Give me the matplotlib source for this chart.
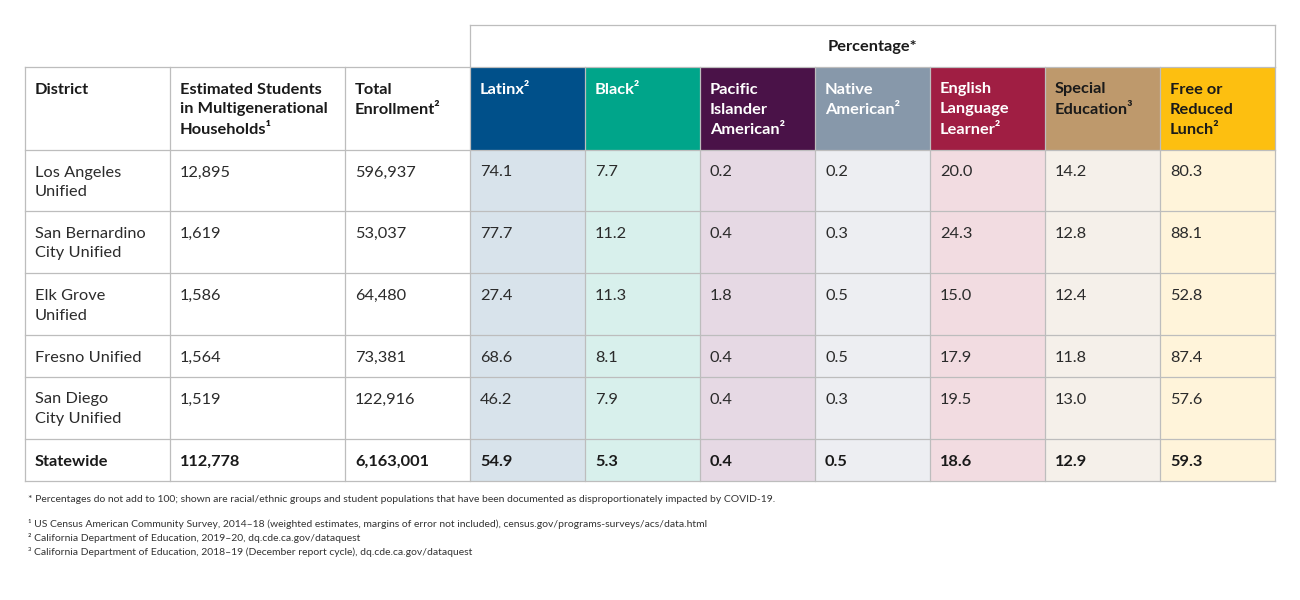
import matplotlib
matplotlib.use("Agg")
import matplotlib.pyplot as plt
import matplotlib.patches as patches

plt.rcParams['font.family'] = ['Lato', 'DejaVu Sans']

# Data
districts = [["Los Angeles", "Unified"],
             ["San Bernardino", "City Unified"],
             ["Elk Grove", "Unified"],
             ["Fresno Unified"],
             ["San Diego", "City Unified"]]
multigen = ["12,895", "1,619", "1,586", "1,564", "1,519"]
enrollment = ["596,937", "53,037", "64,480", "73,381", "122,916"]
latinx = [74.1, 77.7, 27.4, 68.6, 46.2]
black = [7.7, 11.2, 11.3, 8.1, 7.9]
pacific = [0.2, 0.4, 1.8, 0.4, 0.4]
native = [0.2, 0.3, 0.5, 0.5, 0.3]
ell = [20.0, 24.3, 15.0, 17.9, 19.5]
sped = [14.2, 12.8, 12.4, 11.8, 13.0]
frl = [80.3, 88.1, 52.8, 87.4, 57.6]

statewide_multigen = "112,778"
statewide_enroll = "6,163,001"
statewide_pct = [54.9, 5.3, 0.4, 0.5, 18.6, 12.9, 59.3]

left_headers = [["District"],
                ["Estimated Students", "in Multigenerational", "Households¹"],
                ["Total", "Enrollment²"]]
pct_headers = [["Latinx²"], ["Black²"], ["Pacific", "Islander", "American²"],
               ["Native", "American²"], ["English", "Language", "Learner²"],
               ["Special", "Education³"], ["Free or", "Reduced", "Lunch²"]]
head_colors = ["#00508a", "#00a58a", "#4a1248", "#8798aa", "#a01e43", "#be996c", "#fdbf10"]
tint_colors = ["#d8e3eb", "#d8f0ec", "#e6d9e4", "#edeef2", "#f2dce1", "#f5f0ea", "#fff4da"]
head_text = ["white", "white", "white", "white", "white", "#1a1a1a", "#1a1a1a"]

footnotes = [
    "* Percentages do not add to 100; shown are racial/ethnic groups and student populations that have been documented as disproportionately impacted by COVID-19.",
    "¹ US Census American Community Survey, 2014–18 (weighted estimates, margins of error not included), census.gov/programs-surveys/acs/data.html",
    "² California Department of Education, 2019–20, dq.cde.ca.gov/dataquest",
    "³ California Department of Education, 2018–19 (December report cycle), dq.cde.ca.gov/dataquest",
]

# Layout (pixels)
col_edges = [25, 170, 345, 470, 585, 700, 815, 930, 1045, 1160, 1275]
row_edges = [67, 150, 211, 273, 335, 377, 439, 481]
pct_top = 25
grid = "#bdbdbd"
txt = "#2b2b2b"
fs = 11.8
pad_x = 10
line_h = 20

fig = plt.figure(figsize=(13, 6), dpi=100)
ax = fig.add_axes([0, 0, 1, 1])
ax.set_xlim(0, 1300)
ax.set_ylim(600, 0)
ax.axis('off')


def cell_text(col, row_top, lines, color=txt, weight='normal'):
    for k, line in enumerate(lines):
        ax.text(col_edges[col] + pad_x, row_top + 22.5 + k * line_h, line,
                fontsize=fs, color=color, fontweight=weight, va='center', ha='left')


pct_cols = [latinx, black, pacific, native, ell, sped, frl]

# Tinted background of percentage columns, coloured header cells
for j, c in enumerate(tint_colors):
    x0, x1 = col_edges[3 + j], col_edges[4 + j]
    ax.add_patch(patches.Rectangle((x0, row_edges[1]), x1 - x0, row_edges[-1] - row_edges[1],
                                   facecolor=c, edgecolor='none'))
    ax.add_patch(patches.Rectangle((x0, row_edges[0]), x1 - x0, row_edges[1] - row_edges[0],
                                   facecolor=head_colors[j], edgecolor='none'))

# Grid lines
for y in row_edges:
    ax.plot([col_edges[0], col_edges[-1]], [y, y], color=grid, lw=0.9, zorder=1)
for x in col_edges:
    ax.plot([x, x], [row_edges[0], row_edges[-1]], color=grid, lw=0.9, zorder=1)
ax.plot([col_edges[3], col_edges[-1]], [pct_top, pct_top], color=grid, lw=0.9)
ax.plot([col_edges[3], col_edges[3]], [pct_top, row_edges[0]], color=grid, lw=0.9)
ax.plot([col_edges[-1], col_edges[-1]], [pct_top, row_edges[0]], color=grid, lw=0.9)

ax.text((col_edges[3] + col_edges[-1]) / 2, (pct_top + row_edges[0]) / 2 + 1, "Percentage*",
        fontsize=fs, fontweight='bold', color='#1a1a1a', ha='center', va='center')

# Header row
for j, lines in enumerate(left_headers):
    cell_text(j, row_edges[0], lines, color='#1a1a1a', weight='bold')
for j, lines in enumerate(pct_headers):
    cell_text(3 + j, row_edges[0], lines, color=head_text[j], weight='bold')

# District rows
for i in range(len(districts)):
    top = row_edges[1 + i]
    cell_text(0, top, districts[i])
    cell_text(1, top, [multigen[i]])
    cell_text(2, top, [enrollment[i]])
    for j, vals in enumerate(pct_cols):
        cell_text(3 + j, top, [f"{vals[i]:.1f}"])

# Statewide row
top = row_edges[-2]
cell_text(0, top, ["Statewide"], color='#1a1a1a', weight='bold')
cell_text(1, top, [statewide_multigen], color='#1a1a1a', weight='bold')
cell_text(2, top, [statewide_enroll], color='#1a1a1a', weight='bold')
for j, v in enumerate(statewide_pct):
    cell_text(3 + j, top, [f"{v:.1f}"], color='#1a1a1a', weight='bold')

# Footnotes
foot_y = [499, 524, 538, 552]
for y, note in zip(foot_y, footnotes):
    ax.text(28, y, note, fontsize=7.5, color='#333333', ha='left', va='center')

fig.savefig("out.png", dpi=100)
